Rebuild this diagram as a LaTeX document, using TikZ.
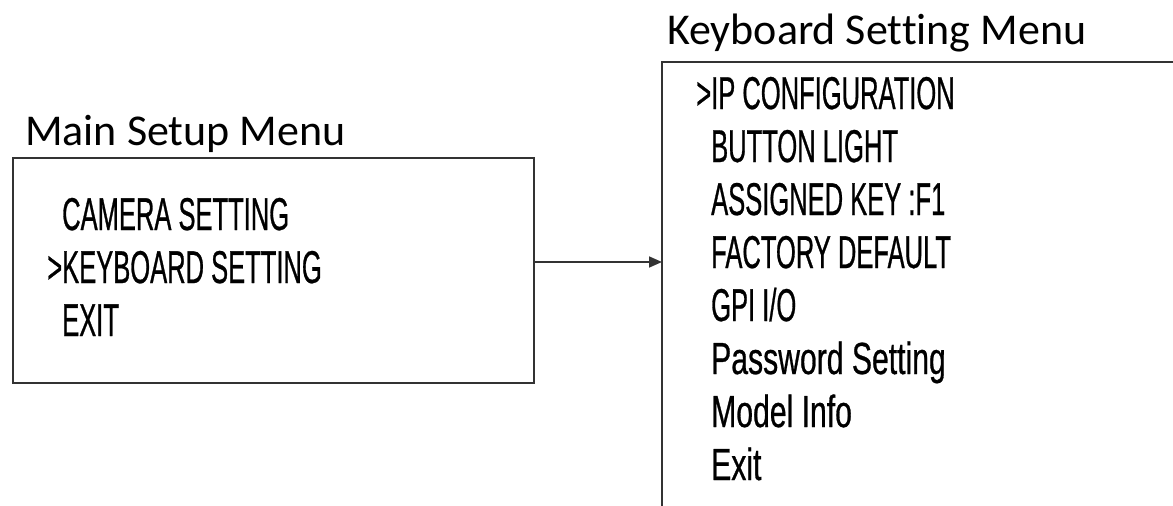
\documentclass[tikz,border=0pt]{standalone}
\usepackage{fontspec}
\setmainfont{Carlito}[Ligatures=NoCommon]
\newfontfamily\menufont[FakeStretch=0.555,FakeBold=0.6]{Liberation Sans}
\newfontfamily\menulcfont[FakeStretch=0.67,FakeBold=0.6]{Liberation Sans}
\usetikzlibrary{arrows.meta}
\begin{document}
\begin{tikzpicture}[x=1pt,y=-1pt,
  boxline/.style={draw=black!80, line width=1.6pt},
  heading/.style={anchor=base west, inner sep=0pt, font=\fontsize{44}{44}\selectfont},
  item/.style={anchor=base west, inner sep=0pt, font=\menufont\fontsize{46}{46}\selectfont},
  lcitem/.style={anchor=base west, inner sep=0pt, font=\menulcfont\fontsize{45}{45}\selectfont},
  conn/.style={draw=black!80, line width=1.6pt, -{Triangle[length=13pt,width=11pt]}}]
\useasboundingbox (0,0) rectangle (1173,506);
% left menu
\node[heading] (mainhead) at (25,145) {Main Setup Menu};
\node[boxline, anchor=north west, minimum width=521pt, minimum height=225pt, inner sep=0pt] (mainbox) at (12,157) {};
\node[item] (camera) at (62,230) {CAMERA SETTING};
\node[item] (keyboard) at (62,283) {\llap{>}KEYBOARD SETTING};
\node[item] (exitmain) at (62,336) {EXIT};
% right menu (open box)
\node[heading] (kbhead) at (667,44) {Keyboard Setting Menu};
\coordinate (kbtopright) at (1173,62);
\coordinate (kbcorner) at (662,62);
\coordinate (kbbottom) at (662,506);
\draw[boxline] (kbtopright) -- (kbcorner) -- (kbbottom);
\coordinate (kbin) at (662,262);
\node[item] (ip) at (711,109) {\llap{>}IP CONFIGURATION};
\node[item] (light) at (711,162) {BUTTON LIGHT};
\node[item] (key) at (711,215) {ASSIGNED KEY :F1};
\node[item] (factory) at (711,268) {FACTORY DEFAULT};
\node[item] (gpi) at (711,321) {GPI I/O};
\node[lcitem] (pass) at (711,374) {Password Setting};
\node[lcitem] (model) at (711,427) {Model Info};
\node[lcitem] (exitkb) at (711,480) {Exit};
% connector
\draw[conn] (mainbox.east |- kbin) -- (kbin);
\end{tikzpicture}
\end{document}
